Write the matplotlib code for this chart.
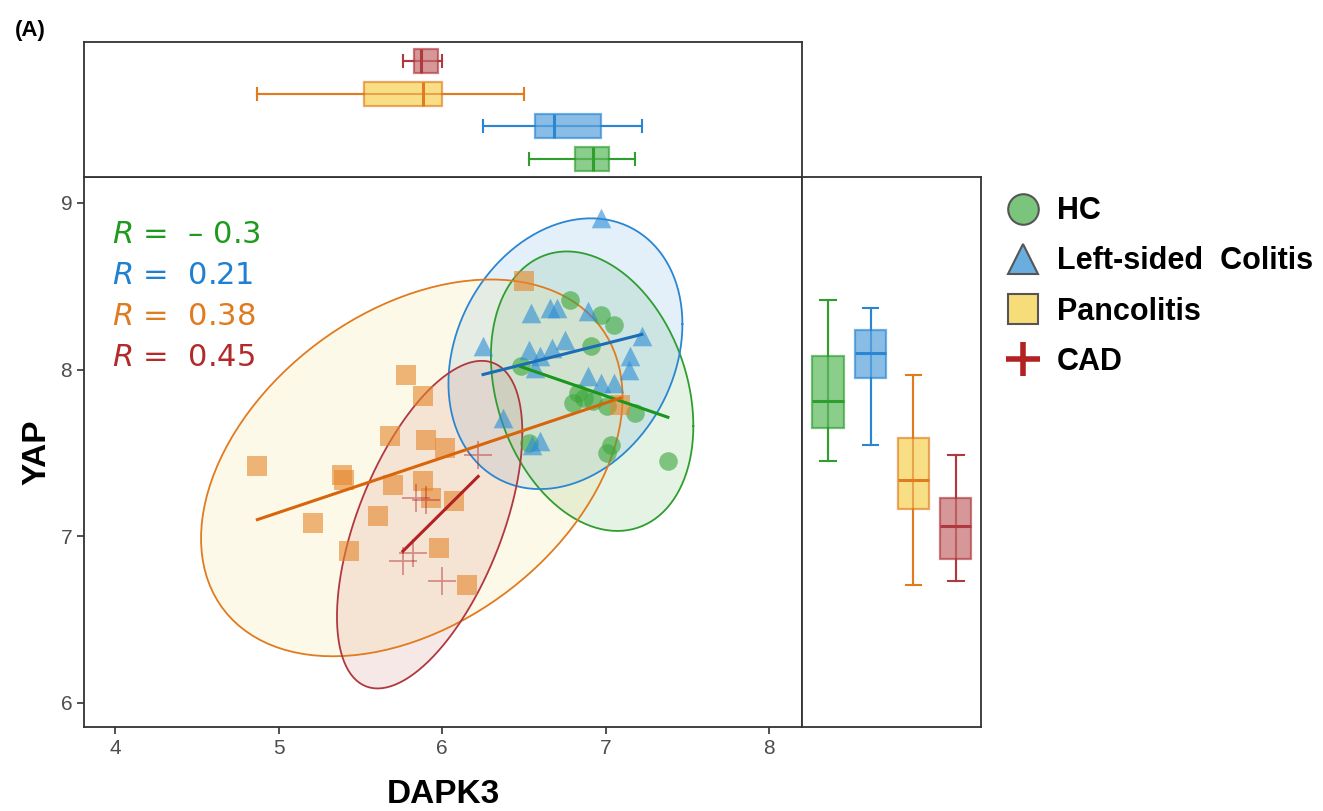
import numpy as np
import matplotlib
matplotlib.use('Agg')
import matplotlib.pyplot as plt
from matplotlib.lines import Line2D
from matplotlib import cbook

plt.rcParams['font.family'] = ['Liberation Sans', 'DejaVu Sans']
plt.rcParams['mathtext.fontset'] = 'dejavusans'

# data (DAPK3 = x, YAP = y)
groups = ['HC', 'Left-sided  Colitis', 'Pancolitis', 'CAD']
hc_x = [6.78, 6.97, 7.05, 6.91, 6.48, 6.83, 6.80, 6.92, 7.01, 7.18, 7.03, 7.01, 7.38, 6.53, 6.87]
hc_y = [8.42, 8.33, 8.27, 8.14, 8.02, 7.86, 7.80, 7.81, 7.78, 7.74, 7.55, 7.50, 7.45, 7.56, 7.83]
lsc_x = [6.97, 6.54, 6.66, 6.70, 6.89, 7.22, 6.25, 6.53, 6.60, 6.67, 6.75, 7.15, 7.14, 6.57, 6.89,
         6.97, 7.05, 6.37, 6.60, 6.55]
lsc_y = [8.91, 8.34, 8.37, 8.37, 8.35, 8.20, 8.14, 8.12, 8.08, 8.13, 8.18, 8.08, 8.00, 8.01, 7.96,
         7.92, 7.92, 7.71, 7.57, 7.55]
pan_x = [6.50, 5.78, 5.88, 5.68, 5.90, 6.02, 4.87, 5.39, 5.40, 5.70, 5.88, 5.93, 6.07, 5.61, 5.21,
         5.43, 5.98, 6.15, 7.09]
pan_y = [8.53, 7.97, 7.84, 7.60, 7.58, 7.53, 7.42, 7.37, 7.34, 7.31, 7.33, 7.23, 7.21, 7.12, 7.08,
         6.91, 6.93, 6.71, 7.79]
cad_x = [6.22, 5.84, 5.90, 5.82, 5.76, 6.00]
cad_y = [7.49, 7.23, 7.22, 6.90, 6.85, 6.73]
r_labels = ['$R$ =  \u2013 0.3', '$R$ =  0.21', '$R$ =  0.38', '$R$ =  0.45']

xs = [hc_x, lsc_x, pan_x, cad_x]
ys = [hc_y, lsc_y, pan_y, cad_y]

point_col = ['#3aa63a', '#2b8cd6', '#e5862a', '#b22222']
edge_col = ['#2f9e2f', '#2a86d2', '#e07b20', '#b0383f']
ell_fill = ['#3aa63a', '#2b8cd6', '#f7d358', '#c0504d']
line_col = ['#1a961a', '#1b6db5', '#d9650a', '#b22222']
text_col = ['#1e9a1e', '#1f7fd0', '#e07b20', '#b22a2a']
box_fill = ['#4db34d', '#4a9ad9', '#f5cf45', '#bf5f5f']
markers = ['o', '^', 's', '+']
msizes = [180, 200, 190, 380]


def ellipse_points(x, y, level=0.95, segments=120):
    x = np.asarray(x)
    y = np.asarray(y)
    d = len(x) - 1
    fq = d / 2 * ((1 - level) ** (-2 / d) - 1)
    radius = np.sqrt(2 * fq)
    chol = np.linalg.cholesky(np.cov(x, y))
    t = np.linspace(0, 2 * np.pi, segments)
    unit = np.vstack([np.cos(t), np.sin(t)])
    pts = np.array([[x.mean()], [y.mean()]]) + radius * chol @ unit
    return pts[0], pts[1]


fig = plt.figure(figsize=(13.23, 8.11), dpi=100)
ax = fig.add_axes([0.0635, 0.1036, 0.5427, 0.6782])
ax_top = fig.add_axes([0.0635, 0.7818, 0.5427, 0.1664], sharex=ax)
ax_right = fig.add_axes([0.6062, 0.1036, 0.1353, 0.6782], sharey=ax)

# ellipses
for i in range(4):
    ex, ey = ellipse_points(xs[i], ys[i])
    ax.fill(ex, ey, color=ell_fill[i], alpha=0.13, lw=0, zorder=1)
for i in range(4):
    ex, ey = ellipse_points(xs[i], ys[i])
    ax.plot(ex, ey, color=edge_col[i], lw=1.3, zorder=2)

# points
for i in range(4):
    if markers[i] == '+':
        ax.scatter(xs[i], ys[i], marker='+', s=msizes[i], color=point_col[i], alpha=0.45,
                   linewidths=1.3, zorder=3)
    else:
        ax.scatter(xs[i], ys[i], marker=markers[i], s=msizes[i], color=point_col[i], alpha=0.6,
                   linewidths=0, zorder=3)

# regression lines
for i in range(4):
    k, b = np.polyfit(xs[i], ys[i], 1)
    xx = np.array([min(xs[i]), max(xs[i])])
    ax.plot(xx, k * xx + b, color=line_col[i], lw=2.2, zorder=4)

for i in range(4):
    ax.text(3.98, 8.81 - i * 0.245, r_labels[i], color=text_col[i], fontsize=22,
            family='DejaVu Sans', va='center', ha='left', zorder=5)

ax.set_xlim(3.81, 8.20)
ax.set_ylim(5.856, 9.156)
ax.set_xticks([4, 5, 6, 7, 8])
ax.set_yticks([6, 7, 8, 9])
ax.tick_params(direction='out', length=5, width=1.2, color='#333333',
               labelsize=15, labelcolor='#4d4d4d')
ax.set_xlabel('DAPK3', fontsize=24, fontweight='bold', labelpad=15)
ax.set_ylabel('YAP', fontsize=24, fontweight='bold', labelpad=6)

# marginal boxplots
for i in range(4):
    st = cbook.boxplot_stats(np.asarray(xs[i]), whis=1.5)
    ax_top.bxp(st, positions=[i + 1], widths=0.73, orientation='horizontal', patch_artist=True,
               showfliers=False, capwidths=[0.36],
               boxprops=dict(facecolor=box_fill[i], edgecolor=edge_col[i], alpha=0.65, lw=1.6),
               medianprops=dict(color=edge_col[i], lw=2.2),
               whiskerprops=dict(color=edge_col[i], lw=1.5),
               capprops=dict(color=edge_col[i], lw=1.5))
    ax_top.plot([st[0]['whislo'], st[0]['whishi']], [i + 1, i + 1], color=edge_col[i],
                lw=1.5, alpha=0.6, zorder=3)

    st = cbook.boxplot_stats(np.asarray(ys[i]), whis=1.5)
    ax_right.bxp(st, positions=[i + 1], widths=0.73, orientation='vertical', patch_artist=True,
                 showfliers=False, capwidths=[0.36],
                 boxprops=dict(facecolor=box_fill[i], edgecolor=edge_col[i], alpha=0.65, lw=1.6),
                 medianprops=dict(color=edge_col[i], lw=2.2),
                 whiskerprops=dict(color=edge_col[i], lw=1.5),
                 capprops=dict(color=edge_col[i], lw=1.5))
    ax_right.plot([i + 1, i + 1], [st[0]['whislo'], st[0]['whishi']], color=edge_col[i],
                  lw=1.5, alpha=0.6, zorder=3)

ax_top.set_ylim(0.45, 4.58)
ax_right.set_xlim(0.39, 4.59)
ax_top.tick_params(left=False, bottom=False, labelleft=False, labelbottom=False)
ax_right.tick_params(left=False, bottom=False, labelleft=False, labelbottom=False)

for a in (ax, ax_top, ax_right):
    for s in a.spines.values():
        s.set_color('#333333')
        s.set_linewidth(1.3)

# legend
leg_fill = ['#7bc47b', '#6aaee0', '#f7dc7a', '#b22222']
handles = []
for i in range(3):
    handles.append(Line2D([], [], marker=markers[i], linestyle='none', markersize=22,
                          markerfacecolor=leg_fill[i], markeredgecolor='#555555',
                          markeredgewidth=1.5))
handles.append(Line2D([], [], marker='+', linestyle='none', markersize=25,
                      color=leg_fill[3], markeredgewidth=4))
fig.legend(handles, groups, loc='upper left', bbox_to_anchor=(0.747, 0.773), frameon=False,
           prop=dict(size=22, weight='bold'), handletextpad=0.35, labelspacing=0.66,
           borderaxespad=0, handlelength=1.5)

fig.text(0.011, 0.963, '(A)', fontsize=16, fontweight='bold', va='center')

fig.savefig('out.png', dpi=100)
